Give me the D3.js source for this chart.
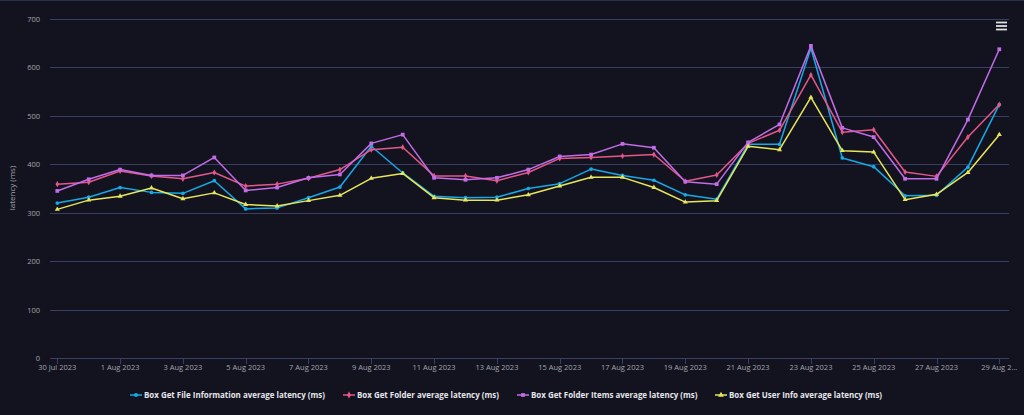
<!DOCTYPE html>
<html><head><meta charset="utf-8">
<script src="https://cdn.jsdelivr.net/npm/d3@7"></script>
<style>
html,body{margin:0;padding:0;background:#12131f;}
svg{display:block;font-family:"Open Sans",sans-serif;}
</style></head>
<body>
<svg id="chart" width="1024" height="415"></svg>
<script>
const dates = ["2023-07-30","2023-07-31","2023-08-01","2023-08-02","2023-08-03","2023-08-04","2023-08-05","2023-08-06","2023-08-07","2023-08-08","2023-08-09","2023-08-10","2023-08-11","2023-08-12","2023-08-13","2023-08-14","2023-08-15","2023-08-16","2023-08-17","2023-08-18","2023-08-19","2023-08-20","2023-08-21","2023-08-22","2023-08-23","2023-08-24","2023-08-25","2023-08-26","2023-08-27","2023-08-28","2023-08-29"];
const fileInfo   = [320,332,352,342,340,366,308,310,331,353,437,382,334,331,332,350,360,390,377,367,337,328,441,441,639,413,395,335,336,394,523];
const folder     = [359,363,386,376,370,383,355,359,371,389,430,435,376,376,366,383,412,414,417,420,365,378,443,470,584,466,471,384,375,456,523];
const folderItems= [345,369,389,377,377,414,346,352,372,379,443,461,372,368,372,389,416,420,442,434,364,359,445,482,644,475,456,370,370,492,637];
const userInfo   = [307,326,334,351,329,341,317,314,325,336,371,381,331,326,326,337,355,373,373,352,322,325,437,430,538,428,425,327,338,383,461];
const seriesNames = ["Box Get File Information average latency (ms)","Box Get Folder average latency (ms)","Box Get Folder Items average latency (ms)","Box Get User Info average latency (ms)"];
const yTicks = [0,100,200,300,400,500,600,700];
const xTickLabels = ["30 Jul 2023","1 Aug 2023","3 Aug 2023","5 Aug 2023","7 Aug 2023","9 Aug 2023","11 Aug 2023","13 Aug 2023","15 Aug 2023","17 Aug 2023","19 Aug 2023","21 Aug 2023","23 Aug 2023","25 Aug 2023","27 Aug 2023","29 Aug 2..."];

const colors = ["#17a8e6","#e5578a","#c26ce8","#e8e65a"];
const symbols = [d3.symbolCircle,d3.symbolDiamond,d3.symbolSquare,d3.symbolTriangle];
const allSeries = [fileInfo,folder,folderItems,userInfo];

const svg = d3.select("#chart");
const parse = d3.utcParse("%Y-%m-%d");
const dts = dates.map(parse);
const plotL = 50, plotR = 1009;
const x = d3.scaleUtc().domain([dts[0], dts[dts.length-1]]).range([57.3, 999.3]);
const y = d3.scaleLinear().domain([0,700]).range([358.3,18.7]);

// top border
svg.append("line").attr("x1",0).attr("x2",1024).attr("y1",0.5).attr("y2",0.5).attr("stroke","#2c2f48");

// grid
svg.append("g").selectAll("line").data(yTicks).join("line")
  .attr("x1",plotL).attr("x2",plotR)
  .attr("y1",d=>Math.round(y(d))+0.5).attr("y2",d=>Math.round(y(d))+0.5)
  .attr("stroke","#383e64").attr("stroke-width",1);

// y labels
svg.append("g").selectAll("text").data(yTicks).join("text")
  .attr("x",40).attr("y",d=>y(d)+3)
  .attr("text-anchor","end").attr("fill","#a3a4ad").attr("font-size","7.5px")
  .text(d=>d);

// y title
svg.append("text").attr("transform","translate(15,188) rotate(-90)")
  .attr("text-anchor","middle").attr("fill","#a3a4ad").attr("font-size","8px")
  .text("latency (ms)");

// x ticks
const tickDates = dts.filter((d,i)=>i%2===0);
const xg = svg.append("g");
xg.selectAll("line").data(tickDates).join("line")
  .attr("x1",d=>Math.round(x(d))+0.5).attr("x2",d=>Math.round(x(d))+0.5)
  .attr("y1",358).attr("y2",364).attr("stroke","#383e64");
xg.selectAll("text").data(tickDates).join("text")
  .attr("x",d=>x(d)).attr("y",370)
  .attr("text-anchor","middle").attr("fill","#a3a4ad").attr("font-size","7.5px")
  .text((d,i)=>xTickLabels[i]);

// lines
const line = d3.line().x((d,i)=>x(dts[i])).y(d=>y(d));
allSeries.forEach((s,k)=>{
  const g = svg.append("g");
  g.append("path").datum(s).attr("d",line).attr("fill","none")
    .attr("stroke",colors[k]).attr("stroke-width",1.5).attr("stroke-linejoin","round");
  g.selectAll("path.m").data(s).join("path").attr("class","m")
    .attr("transform",(d,i)=>`translate(${x(dts[i])},${y(d)})`)
    .attr("d",d3.symbol().type(symbols[k]).size(k===2?14:11))
    .attr("fill",colors[k]);
});

// legend
const legendX = [130,343,517,715];
const lg = svg.append("g");
seriesNames.forEach((n,k)=>{
  const gx = legendX[k], gy = 395;
  lg.append("line").attr("x1",gx).attr("x2",gx+12).attr("y1",gy).attr("y2",gy)
    .attr("stroke",colors[k]).attr("stroke-width",1.5);
  lg.append("path").attr("transform",`translate(${gx+6},${gy})`)
    .attr("d",d3.symbol().type(symbols[k]).size(14)).attr("fill",colors[k]);
  lg.append("text").attr("x",gx+14).attr("y",gy+3)
    .attr("fill","#e6e6ea").attr("font-size","7.95px").attr("font-weight","bold")
    .text(n);
});

// menu icon
const mg = svg.append("g");
[22.5,26,29.5].forEach(yy=>{
  mg.append("line").attr("x1",996).attr("x2",1007).attr("y1",yy).attr("y2",yy)
    .attr("stroke","#e0e0e0").attr("stroke-width",1.8);
});
</script>
</body></html>
